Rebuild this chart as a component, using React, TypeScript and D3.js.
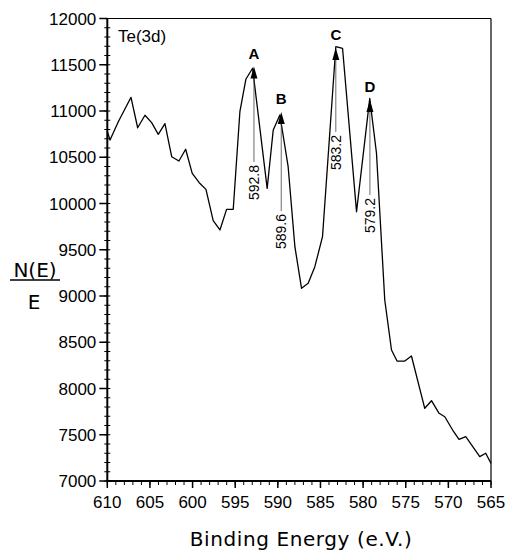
import React from 'react';
import * as d3 from 'd3';

// Te(3d) XPS spectrum
const energy = [
  610, 609.68, 608.71, 607.22, 606.44, 605.58, 604.8, 604.02, 603.24, 602.45,
  601.6, 600.81, 600.04, 599.22, 598.43, 597.58, 596.79, 596.01, 595.23, 594.45,
  593.75, 592.96, 591.25, 590.54, 589.76, 588.79, 588.0, 587.22, 586.44, 585.66,
  584.76, 583.2, 582.41, 580.77, 579.22, 578.43, 577.46, 576.67, 576.02, 575.11,
  574.33, 572.77, 571.98, 571.09, 570.42, 569.5, 568.75, 567.96, 566.32, 565.62,
  565.0,
];
const counts = [
  10778, 10686, 10884, 11148, 10819, 10954, 10874, 10748, 10863, 10506,
  10459, 10586, 10326, 10225, 10153, 9814, 9714, 9937, 9937, 10992,
  11343, 11462, 10164, 10795, 10957, 10398, 9533, 9083, 9137, 9317,
  9641, 11695, 11678, 9911, 11137, 10543, 8957, 8416, 8297, 8297,
  8351, 7786, 7868, 7732, 7695, 7551, 7451, 7479, 7263, 7300,
  7191,
];

const peakNames = ['A', 'B', 'C', 'D'];
const peakEnergy = [592.8, 589.6, 583.2, 579.2];
const peakTop = [11480, 10990, 11680, 11120];
const peakTextTop = [10416, 9886, 10741, 10059];

const xTicks = [610, 605, 600, 595, 590, 585, 580, 575, 570, 565];
const yTicks = [7000, 7500, 8000, 8500, 9000, 9500, 10000, 10500, 11000, 11500, 12000];

export default function App() {
  const x = d3.scaleLinear().domain([610, 565]).range([107.3, 491]);
  const y = d3.scaleLinear().domain([7000, 12000]).range([481, 18.5]);

  const line = d3
    .line<number>()
    .x((d, i) => x(energy[i]))
    .y((d) => y(d));

  const xMinor = d3.range(565, 611, 1);
  const yMinor = d3.range(7000, 12001, 100);
  const num = 'Arial, "Liberation Sans", sans-serif';
  const title = '"DejaVu Sans", sans-serif';

  return (
    <svg
      width={508}
      height={550}
      style={{ position: 'absolute', left: 0, top: 0, background: '#fff' }}
    >
      {/* frame */}
      <line x1={x(610)} x2={x(565)} y1={y(12000)} y2={y(12000)} stroke="#000" strokeWidth={1.2} />
      <line x1={x(565)} x2={x(565)} y1={y(12000)} y2={y(7000)} stroke="#000" strokeWidth={1.2} />
      <line x1={x(610)} x2={x(610)} y1={y(12000)} y2={y(7000) + 1} stroke="#000" strokeWidth={2} />
      <line x1={x(610) - 1} x2={x(565)} y1={y(7000)} y2={y(7000)} stroke="#000" strokeWidth={2} />

      {/* y ticks */}
      {yMinor.map((v) => (
        <line key={'ym' + v} x1={x(610) - 3} x2={x(610) + 3} y1={y(v)} y2={y(v)} stroke="#000" strokeWidth={1} />
      ))}
      {yTicks.map((v) => (
        <g key={'y' + v}>
          <line x1={x(610) - 8} x2={x(610)} y1={y(v)} y2={y(v)} stroke="#000" strokeWidth={1.5} />
          <text x={x(610) - 11} y={y(v)} dy="0.36em" textAnchor="end" fontFamily={num} fontSize={17}>
            {v}
          </text>
        </g>
      ))}

      {/* x ticks */}
      {xMinor.map((v) => (
        <line key={'xm' + v} x1={x(v)} x2={x(v)} y1={y(7000)} y2={y(7000) + 4} stroke="#000" strokeWidth={1} />
      ))}
      {xTicks.map((v) => (
        <g key={'x' + v}>
          <line x1={x(v)} x2={x(v)} y1={y(7000)} y2={y(7000) + 7} stroke="#000" strokeWidth={1.5} />
          <text x={x(v)} y={508} textAnchor="middle" fontFamily={num} fontSize={17}>
            {v}
          </text>
        </g>
      ))}

      {/* spectrum */}
      <path d={line(counts) || ''} fill="none" stroke="#000" strokeWidth={1.3} strokeLinejoin="round" />

      {/* peak markers */}
      {peakNames.map((name, i) => {
        const px = x(peakEnergy[i]);
        const top = y(peakTop[i]);
        const textTop = y(peakTextTop[i]);
        return (
          <g key={name}>
            <line x1={px} x2={px} y1={top + 8} y2={textTop - 3} stroke="#444" strokeWidth={0.8} />
            <path d={`M${px},${top} L${px - 3.5},${top + 12} L${px + 3.5},${top + 12} Z`} fill="#000" />
            <text x={px} y={top - 8} textAnchor="middle" fontFamily={num} fontSize={15} fontWeight="bold">
              {name}
            </text>
            <text
              transform={`translate(${px},${textTop}) rotate(-90)`}
              textAnchor="end"
              dy="0.36em"
              fontFamily={num}
              fontSize={14}
            >
              {peakEnergy[i].toFixed(1)}
            </text>
          </g>
        );
      })}

      <text x={118} y={42} fontFamily={num} fontSize={17}>
        Te(3d)
      </text>

      {/* axis titles */}
      <text x={35} y={277} textAnchor="middle" fontFamily={title} fontSize={20}>
        N(E)
      </text>
      <line x1={10} x2={60} y1={280} y2={280} stroke="#000" strokeWidth={1.5} />
      <text x={34} y={309} textAnchor="middle" fontFamily={title} fontSize={20}>
        E
      </text>
      <text x={301} y={546} textAnchor="middle" fontFamily={title} fontSize={20} letterSpacing={0.6}>
        Binding Energy (e.V.)
      </text>
    </svg>
  );
}
